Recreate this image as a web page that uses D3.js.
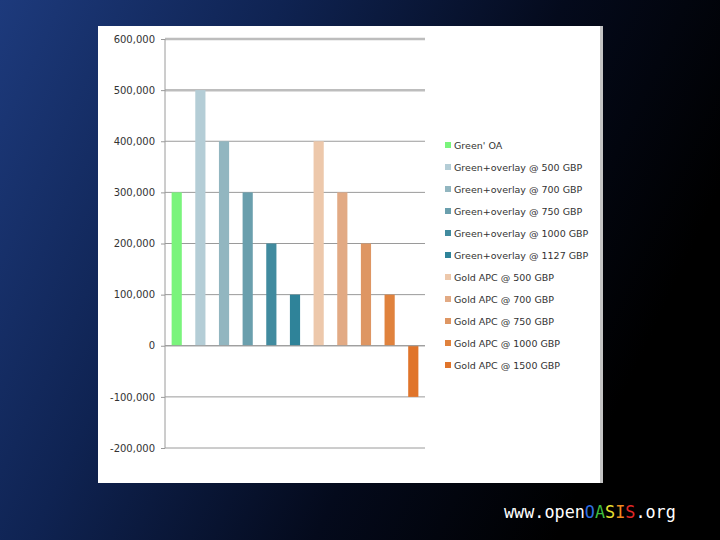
<!DOCTYPE html>
<html><head><meta charset="utf-8">
<script src="https://cdn.jsdelivr.net/npm/d3@7"></script>
<style>html,body{margin:0;padding:0;background:#000;}svg{display:block;}</style>
</head><body>
<script>
const categories = ["Green' OA","Green+overlay @ 500 GBP","Green+overlay @ 700 GBP","Green+overlay @ 750 GBP","Green+overlay @ 1000 GBP","Green+overlay @ 1127 GBP","Gold APC @ 500 GBP","Gold APC @ 700 GBP","Gold APC @ 750 GBP","Gold APC @ 1000 GBP","Gold APC @ 1500 GBP"];
const values = [300000, 500000, 400000, 300000, 200000, 100000, 400000, 300000, 200000, 100000, -100000];
const colors = ["#7af47c","#b4cdd6","#92b6c0","#6a9fad","#418b9f","#2f8399","#edc8ab","#e2aa84","#de9663","#e0823d","#e0742a"];
const tickValues = [600000,500000,400000,300000,200000,100000,0,-100000,-200000];
const tickLabels = ["600,000","500,000","400,000","300,000","200,000","100,000","0","-100,000","-200,000"];

const W=720,H=540;
const svg=d3.select("body").append("svg").attr("width",W).attr("height",H);
const defs=svg.append("defs");
const g1=defs.append("linearGradient").attr("id","bg").attr("x1","0").attr("y1","0").attr("x2","1").attr("y2","0.35");
g1.append("stop").attr("offset","0").attr("stop-color","#1d3a7c");
g1.append("stop").attr("offset","0.35").attr("stop-color","#0f2352");
g1.append("stop").attr("offset","0.7").attr("stop-color","#040a1c");
g1.append("stop").attr("offset","1").attr("stop-color","#000000");
svg.append("rect").attr("width",W).attr("height",H).attr("fill","url(#bg)");

// panel
svg.append("rect").attr("x",98).attr("y",26).attr("width",505).attr("height",457).attr("fill","#ffffff");
svg.append("rect").attr("x",600).attr("y",26).attr("width",3).attr("height",457).attr("fill","#c4c4c4");

const x=d3.scaleBand().domain(categories).range([165,425]).paddingInner(0.57).paddingOuter(0.28);
const y=d3.scaleLinear().domain([-200000,600000]).range([448,39]);

const grid=svg.append("g");
grid.selectAll("line").data(tickValues).join("line")
  .attr("x1",165).attr("x2",425).attr("y1",d=>y(d)).attr("y2",d=>y(d))
  .attr("stroke",d=>d>=500000?"#bdbdbd":"#9a9a9a")
  .attr("stroke-width",d=>d>=500000?2.5:1);

const yAxis=d3.axisLeft(y).tickValues(tickValues).tickFormat((d,i)=>tickLabels[i]).tickSize(4).tickPadding(6);
const ax=svg.append("g").attr("transform","translate(165,0)").call(yAxis);
ax.select(".domain").attr("stroke","#9a9a9a").attr("d","M0,"+y(600000)+"V"+y(-200000));
ax.selectAll(".tick line").attr("stroke","#9a9a9a");
ax.selectAll(".tick text").attr("fill","#333").style("font-family","'DejaVu Sans', sans-serif").style("font-size","10px");

svg.append("g").selectAll("rect").data(values).join("rect")
  .attr("x",(d,i)=>x(categories[i]))
  .attr("width",x.bandwidth())
  .attr("y",d=>y(Math.max(0,d)))
  .attr("height",d=>Math.abs(y(d)-y(0)))
  .attr("fill",(d,i)=>colors[i]);

// zero line over bars
svg.append("line").attr("x1",165).attr("x2",425).attr("y1",y(0)).attr("y2",y(0)).attr("stroke","#9a9a9a").attr("stroke-width",1);

// legend
const lg=svg.append("g").attr("transform","translate(445,146)");
const items=lg.selectAll("g").data(categories).join("g").attr("transform",(d,i)=>`translate(0,${i*22})`);
items.append("rect").attr("x",0).attr("y",-4).attr("width",6).attr("height",6).attr("fill",(d,i)=>colors[i]);
items.append("text").attr("x",9).attr("y",0).attr("dy","0.35em").text(d=>d)
  .attr("fill","#333").style("font-family","'DejaVu Sans', sans-serif").style("font-size","9.5px");

// footer
const ft=svg.append("text").attr("x",504).attr("y",518).style("font-family","'DejaVu Sans Mono', monospace").style("font-size","16.8px");
const parts=[["www.","#ffffff"],["open","#ffffff"],["O","#2f6fe0"],["A","#3fbf3f"],["S","#e8e030"],["I","#f08a20"],["S","#e02828"],[".org","#ffffff"]];
parts.forEach(p=>ft.append("tspan").text(p[0]).attr("fill",p[1]));
</script>
</body></html>
